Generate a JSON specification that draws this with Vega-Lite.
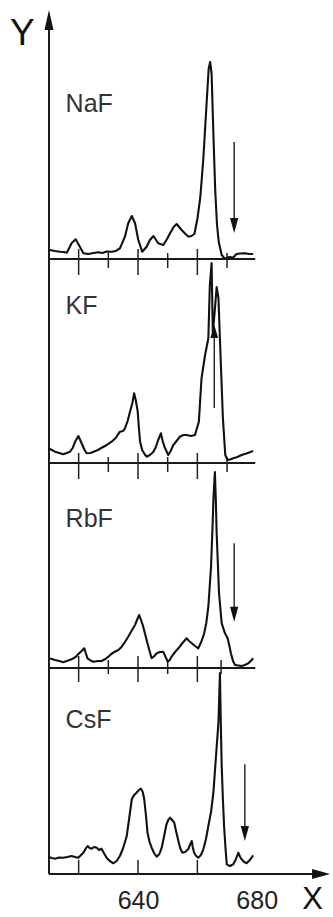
{
  "$schema": "https://vega.github.io/schema/vega-lite/v6.json",
  "padding": 0,
  "background": "white",
  "bounds": "flush",
  "spacing": 0,
  "config": {"view": {"stroke": null}, "font": "Liberation Sans"},
  "datasets": {
    "spectra": [
      {"panel":"NaF","x":610.3,"y":9},{"panel":"NaF","x":612,"y":8},{"panel":"NaF","x":613.7,"y":7.3},{"panel":"NaF","x":615,"y":7},{"panel":"NaF","x":616,"y":6.3},{"panel":"NaF","x":617,"y":12},{"panel":"NaF","x":617.6,"y":15.7},{"panel":"NaF","x":619,"y":19.7},{"panel":"NaF","x":620.4,"y":12.3},{"panel":"NaF","x":621.6,"y":5.7},{"panel":"NaF","x":623.3,"y":5},{"panel":"NaF","x":625,"y":6},{"panel":"NaF","x":626.6,"y":6.7},{"panel":"NaF","x":628,"y":6},{"panel":"NaF","x":629.5,"y":7.5},{"panel":"NaF","x":631.1,"y":7.3},{"panel":"NaF","x":632.5,"y":8},{"panel":"NaF","x":633.9,"y":10.7},{"panel":"NaF","x":635.6,"y":22.3},{"panel":"NaF","x":636.7,"y":35.7},{"panel":"NaF","x":637.9,"y":43},{"panel":"NaF","x":639,"y":35.7},{"panel":"NaF","x":640.1,"y":19},{"panel":"NaF","x":641.4,"y":7.3},{"panel":"NaF","x":642.9,"y":12.3},{"panel":"NaF","x":644,"y":19},{"panel":"NaF","x":645.2,"y":23},{"panel":"NaF","x":646.8,"y":15.7},{"panel":"NaF","x":648.5,"y":14},{"panel":"NaF","x":649.8,"y":20},{"panel":"NaF","x":650.8,"y":25.7},{"panel":"NaF","x":652,"y":32},{"panel":"NaF","x":653,"y":35},{"panel":"NaF","x":654.7,"y":29},{"panel":"NaF","x":656,"y":25},{"panel":"NaF","x":657,"y":22.3},{"panel":"NaF","x":658,"y":23},{"panel":"NaF","x":659,"y":25},{"panel":"NaF","x":660,"y":40},{"panel":"NaF","x":661,"y":62},{"panel":"NaF","x":662,"y":100},{"panel":"NaF","x":663,"y":150},{"panel":"NaF","x":663.8,"y":190},{"panel":"NaF","x":664.3,"y":197},{"panel":"NaF","x":664.8,"y":185},{"panel":"NaF","x":665.4,"y":125},{"panel":"NaF","x":666,"y":70},{"panel":"NaF","x":666.6,"y":35},{"panel":"NaF","x":667.2,"y":17},{"panel":"NaF","x":668.2,"y":4},{"panel":"NaF","x":669.3,"y":0},{"panel":"NaF","x":670,"y":1.5},{"panel":"NaF","x":671,"y":2},{"panel":"NaF","x":672,"y":1.3},{"panel":"NaF","x":673.2,"y":5},{"panel":"NaF","x":674.5,"y":5.5},{"panel":"NaF","x":676,"y":5.7},{"panel":"NaF","x":677.5,"y":5},{"panel":"NaF","x":678.8,"y":5},
      {"panel":"KF","x":609.8,"y":14.7},{"panel":"KF","x":611,"y":13},{"panel":"KF","x":612,"y":11.3},{"panel":"KF","x":613.5,"y":10},{"panel":"KF","x":614.8,"y":8.7},{"panel":"KF","x":616,"y":10},{"panel":"KF","x":617.1,"y":11.3},{"panel":"KF","x":618,"y":15},{"panel":"KF","x":618.8,"y":21.3},{"panel":"KF","x":619.9,"y":27},{"panel":"KF","x":621,"y":19.7},{"panel":"KF","x":622,"y":13},{"panel":"KF","x":622.7,"y":9.7},{"panel":"KF","x":624,"y":10},{"panel":"KF","x":625,"y":11.3},{"panel":"KF","x":626.5,"y":13},{"panel":"KF","x":627.8,"y":15.3},{"panel":"KF","x":629.5,"y":18},{"panel":"KF","x":631.1,"y":21.3},{"panel":"KF","x":632.5,"y":25},{"panel":"KF","x":633.9,"y":31.3},{"panel":"KF","x":635,"y":32},{"panel":"KF","x":635.6,"y":34.7},{"panel":"KF","x":636.5,"y":42},{"panel":"KF","x":637.3,"y":51.3},{"panel":"KF","x":638.1,"y":60},{"panel":"KF","x":638.7,"y":69.7},{"panel":"KF","x":639.3,"y":62},{"panel":"KF","x":639.9,"y":51.3},{"panel":"KF","x":640.3,"y":35},{"panel":"KF","x":640.7,"y":21.3},{"panel":"KF","x":641.4,"y":13},{"panel":"KF","x":642.2,"y":9},{"panel":"KF","x":642.9,"y":6.3},{"panel":"KF","x":644,"y":8},{"panel":"KF","x":645.2,"y":11.3},{"panel":"KF","x":646,"y":16},{"panel":"KF","x":646.8,"y":23},{"panel":"KF","x":647.7,"y":29.7},{"panel":"KF","x":648.3,"y":22},{"panel":"KF","x":648.9,"y":16.3},{"panel":"KF","x":650.2,"y":8},{"panel":"KF","x":651,"y":12},{"panel":"KF","x":651.9,"y":18},{"panel":"KF","x":653,"y":22},{"panel":"KF","x":654.1,"y":26.3},{"panel":"KF","x":655.3,"y":28},{"panel":"KF","x":656.4,"y":28},{"panel":"KF","x":657.8,"y":27},{"panel":"KF","x":659.2,"y":28},{"panel":"KF","x":660.5,"y":41.3},{"panel":"KF","x":661.4,"y":84.7},{"panel":"KF","x":662.6,"y":108},{"panel":"KF","x":663.7,"y":124.7},{"panel":"KF","x":664.2,"y":178},{"panel":"KF","x":664.8,"y":200},{"panel":"KF","x":665.2,"y":130},{"panel":"KF","x":665.8,"y":150},{"panel":"KF","x":666.5,"y":176},{"panel":"KF","x":667.1,"y":165},{"panel":"KF","x":667.8,"y":108},{"panel":"KF","x":668.6,"y":45},{"panel":"KF","x":669.4,"y":8},{"panel":"KF","x":670.2,"y":3},{"panel":"KF","x":671,"y":3.5},{"panel":"KF","x":672.1,"y":4.7},{"panel":"KF","x":673.5,"y":6},{"panel":"KF","x":674.9,"y":8},{"panel":"KF","x":676.5,"y":9.5},{"panel":"KF","x":678.8,"y":12},
      {"panel":"RbF","x":609.8,"y":9.7},{"panel":"RbF","x":611,"y":9},{"panel":"RbF","x":612,"y":8},{"panel":"RbF","x":613.5,"y":7},{"panel":"RbF","x":614.8,"y":5.7},{"panel":"RbF","x":616,"y":7},{"panel":"RbF","x":617.6,"y":8.7},{"panel":"RbF","x":619,"y":11},{"panel":"RbF","x":619.9,"y":14},{"panel":"RbF","x":621,"y":17},{"panel":"RbF","x":621.9,"y":19.7},{"panel":"RbF","x":622.5,"y":14},{"panel":"RbF","x":623,"y":9.7},{"panel":"RbF","x":624,"y":7.5},{"panel":"RbF","x":625,"y":6.3},{"panel":"RbF","x":626.5,"y":7},{"panel":"RbF","x":627.7,"y":7},{"panel":"RbF","x":629,"y":9},{"panel":"RbF","x":630,"y":11.3},{"panel":"RbF","x":631,"y":14},{"panel":"RbF","x":632.2,"y":16.3},{"panel":"RbF","x":633.4,"y":18},{"panel":"RbF","x":634.5,"y":21.3},{"panel":"RbF","x":635.6,"y":26},{"panel":"RbF","x":636.7,"y":31.3},{"panel":"RbF","x":637.8,"y":37},{"panel":"RbF","x":639,"y":43},{"panel":"RbF","x":639.8,"y":49},{"panel":"RbF","x":640.4,"y":53},{"panel":"RbF","x":641,"y":48},{"panel":"RbF","x":641.6,"y":43},{"panel":"RbF","x":642.3,"y":35},{"panel":"RbF","x":642.9,"y":28},{"panel":"RbF","x":643.8,"y":18},{"panel":"RbF","x":644.6,"y":9.7},{"panel":"RbF","x":645.5,"y":12},{"panel":"RbF","x":646.3,"y":14.7},{"panel":"RbF","x":647.4,"y":16},{"panel":"RbF","x":648.5,"y":16.3},{"panel":"RbF","x":649.3,"y":11},{"panel":"RbF","x":650,"y":6.3},{"panel":"RbF","x":650.7,"y":8},{"panel":"RbF","x":651.3,"y":11.3},{"panel":"RbF","x":652.5,"y":16},{"panel":"RbF","x":653.6,"y":19.7},{"panel":"RbF","x":655,"y":25},{"panel":"RbF","x":656.4,"y":29.7},{"panel":"RbF","x":657.2,"y":27},{"panel":"RbF","x":658.1,"y":24.7},{"panel":"RbF","x":659.2,"y":22},{"panel":"RbF","x":660.3,"y":19.7},{"panel":"RbF","x":661.3,"y":26},{"panel":"RbF","x":662.3,"y":34.7},{"panel":"RbF","x":663,"y":45},{"panel":"RbF","x":663.7,"y":61.3},{"panel":"RbF","x":664.6,"y":101},{"panel":"RbF","x":665.1,"y":140},{"panel":"RbF","x":665.4,"y":168},{"panel":"RbF","x":665.9,"y":196},{"panel":"RbF","x":666.2,"y":170},{"panel":"RbF","x":666.5,"y":134.7},{"panel":"RbF","x":667.3,"y":74.7},{"panel":"RbF","x":668.2,"y":44.7},{"panel":"RbF","x":669.3,"y":34.7},{"panel":"RbF","x":670.2,"y":29.7},{"panel":"RbF","x":670.8,"y":22},{"panel":"RbF","x":671.3,"y":14.7},{"panel":"RbF","x":672,"y":7},{"panel":"RbF","x":672.7,"y":3},{"panel":"RbF","x":673.8,"y":2.5},{"panel":"RbF","x":674.9,"y":2},{"panel":"RbF","x":676,"y":3},{"panel":"RbF","x":677.2,"y":4.7},{"panel":"RbF","x":678,"y":7},{"panel":"RbF","x":678.8,"y":9.7},
      {"panel":"CsF","x":609.8,"y":17.3},{"panel":"CsF","x":610.9,"y":16},{"panel":"CsF","x":612,"y":15.3},{"panel":"CsF","x":613.4,"y":16.5},{"panel":"CsF","x":614.8,"y":16.3},{"panel":"CsF","x":616.2,"y":17},{"panel":"CsF","x":617.6,"y":18},{"panel":"CsF","x":618.8,"y":17},{"panel":"CsF","x":619.9,"y":16.3},{"panel":"CsF","x":620.8,"y":19},{"panel":"CsF","x":621.6,"y":21.3},{"panel":"CsF","x":622.3,"y":25},{"panel":"CsF","x":623,"y":28},{"panel":"CsF","x":623.7,"y":26},{"panel":"CsF","x":624.4,"y":25.3},{"panel":"CsF","x":625.2,"y":27},{"panel":"CsF","x":626.1,"y":26.3},{"panel":"CsF","x":626.9,"y":24},{"panel":"CsF","x":627.7,"y":25.3},{"panel":"CsF","x":628.5,"y":21},{"panel":"CsF","x":629.4,"y":16.3},{"panel":"CsF","x":630.5,"y":13},{"panel":"CsF","x":631.7,"y":10.7},{"panel":"CsF","x":632.8,"y":13},{"panel":"CsF","x":633.9,"y":18},{"panel":"CsF","x":635,"y":26},{"panel":"CsF","x":636.2,"y":38},{"panel":"CsF","x":637,"y":55},{"panel":"CsF","x":637.9,"y":74.7},{"panel":"CsF","x":638.7,"y":79},{"panel":"CsF","x":639.5,"y":81.3},{"panel":"CsF","x":640.3,"y":84},{"panel":"CsF","x":641,"y":85.3},{"panel":"CsF","x":641.6,"y":82},{"panel":"CsF","x":642.1,"y":74.7},{"panel":"CsF","x":642.7,"y":58},{"panel":"CsF","x":643.2,"y":41.3},{"panel":"CsF","x":643.9,"y":32},{"panel":"CsF","x":644.6,"y":26.3},{"panel":"CsF","x":645.4,"y":21},{"panel":"CsF","x":646.3,"y":17.3},{"panel":"CsF","x":647.2,"y":20},{"panel":"CsF","x":648,"y":26.3},{"panel":"CsF","x":648.8,"y":38},{"panel":"CsF","x":649.6,"y":49.7},{"panel":"CsF","x":650.2,"y":54},{"panel":"CsF","x":650.8,"y":56.3},{"panel":"CsF","x":651.5,"y":54},{"panel":"CsF","x":652.2,"y":51.3},{"panel":"CsF","x":652.9,"y":42},{"panel":"CsF","x":653.6,"y":33},{"panel":"CsF","x":654.2,"y":26},{"panel":"CsF","x":654.9,"y":21.3},{"panel":"CsF","x":655.9,"y":22},{"panel":"CsF","x":656.9,"y":24.7},{"panel":"CsF","x":657.5,"y":29},{"panel":"CsF","x":658.1,"y":33},{"panel":"CsF","x":658.5,"y":26},{"panel":"CsF","x":658.9,"y":21.3},{"panel":"CsF","x":659.6,"y":18},{"panel":"CsF","x":660.3,"y":16.3},{"panel":"CsF","x":661.2,"y":19},{"panel":"CsF","x":662,"y":24.7},{"panel":"CsF","x":662.9,"y":35},{"panel":"CsF","x":663.7,"y":48},{"panel":"CsF","x":664.6,"y":62},{"panel":"CsF","x":665.4,"y":81.3},{"panel":"CsF","x":666.2,"y":114.7},{"panel":"CsF","x":667.1,"y":151.3},{"panel":"CsF","x":667.4,"y":180},{"panel":"CsF","x":667.6,"y":201},{"panel":"CsF","x":667.9,"y":150},{"panel":"CsF","x":668.2,"y":108},{"panel":"CsF","x":668.6,"y":75},{"panel":"CsF","x":669,"y":48},{"panel":"CsF","x":669.5,"y":25},{"panel":"CsF","x":669.9,"y":9.7},{"panel":"CsF","x":670.5,"y":8.5},{"panel":"CsF","x":671,"y":8},{"panel":"CsF","x":671.6,"y":9},{"panel":"CsF","x":672.1,"y":9.7},{"panel":"CsF","x":673,"y":15},{"panel":"CsF","x":673.8,"y":21.3},{"panel":"CsF","x":674.4,"y":17},{"panel":"CsF","x":674.9,"y":14.7},{"panel":"CsF","x":675.8,"y":12},{"panel":"CsF","x":676.6,"y":10.7},{"panel":"CsF","x":677.7,"y":14},{"panel":"CsF","x":678.8,"y":18.7}
    ],
    "segments": [
      {"panel":"NaF","kind":"frame","x":610,"x2":610,"y":0,"y2":240},
      {"panel":"NaF","kind":"frame","x":610,"x2":679.5,"y":0,"y2":0},
      {"panel":"KF","kind":"frame","x":610,"x2":610,"y":0,"y2":204},
      {"panel":"KF","kind":"frame","x":610,"x2":679.5,"y":0,"y2":0},
      {"panel":"RbF","kind":"frame","x":610,"x2":610,"y":0,"y2":205},
      {"panel":"RbF","kind":"frame","x":610,"x2":679.5,"y":0,"y2":0},
      {"panel":"CsF","kind":"frame","x":610,"x2":610,"y":0,"y2":206},
      {"panel":"CsF","kind":"frame","x":610,"x2":700,"y":0,"y2":0},
      {"panel":"NaF","kind":"tick","x":620,"x2":620,"y":10,"y2":-16},
      {"panel":"NaF","kind":"tick","x":630,"x2":630,"y":6,"y2":-9},
      {"panel":"NaF","kind":"tick","x":640,"x2":640,"y":10,"y2":-16},
      {"panel":"NaF","kind":"tick","x":650,"x2":650,"y":6,"y2":-9},
      {"panel":"NaF","kind":"tick","x":660,"x2":660,"y":10,"y2":-16},
      {"panel":"NaF","kind":"tick","x":670,"x2":670,"y":6,"y2":-9},
      {"panel":"KF","kind":"tick","x":620,"x2":620,"y":10,"y2":-16},
      {"panel":"KF","kind":"tick","x":630,"x2":630,"y":6,"y2":-9},
      {"panel":"KF","kind":"tick","x":640,"x2":640,"y":10,"y2":-16},
      {"panel":"KF","kind":"tick","x":650,"x2":650,"y":6,"y2":-9},
      {"panel":"KF","kind":"tick","x":660,"x2":660,"y":10,"y2":-16},
      {"panel":"KF","kind":"tick","x":670,"x2":670,"y":6,"y2":-9},
      {"panel":"RbF","kind":"tick","x":620,"x2":620,"y":12,"y2":-14},
      {"panel":"RbF","kind":"tick","x":630,"x2":630,"y":8,"y2":-6},
      {"panel":"RbF","kind":"tick","x":640,"x2":640,"y":12,"y2":-14},
      {"panel":"RbF","kind":"tick","x":650,"x2":650,"y":8,"y2":-6},
      {"panel":"RbF","kind":"tick","x":660,"x2":660,"y":12,"y2":-14},
      {"panel":"RbF","kind":"tick","x":668,"x2":668,"y":8,"y2":-6},
      {"panel":"CsF","kind":"tick","x":620,"x2":620,"y":0,"y2":14},
      {"panel":"CsF","kind":"tick","x":640,"x2":640,"y":0,"y2":14},
      {"panel":"CsF","kind":"tick","x":660,"x2":660,"y":0,"y2":14},
      {"panel":"NaF","kind":"shaft","x":672.4,"x2":672.4,"y":117,"y2":32},
      {"panel":"KF","kind":"shaft","x":665.7,"x2":665.7,"y":55,"y2":132},
      {"panel":"RbF","kind":"shaft","x":672.4,"x2":672.4,"y":124.7,"y2":52},
      {"panel":"CsF","kind":"shaft","x":676,"x2":676,"y":109.7,"y2":38}
    ],
    "heads": [
      {"panel":"NaF","kind":"down","x":672.4,"y":26},
      {"panel":"NaF","kind":"yaxis","x":610,"y":249},
      {"panel":"KF","kind":"up","x":665.7,"y":138},
      {"panel":"RbF","kind":"down","x":672.4,"y":46.3},
      {"panel":"CsF","kind":"down","x":676,"y":33},
      {"panel":"CsF","kind":"xaxis","x":704.7,"y":0}
    ],
    "labels": [
      {"panel":"NaF","kind":"panel","x":615.6,"y":147.3,"label":"NaF"},
      {"panel":"KF","kind":"panel","x":615.6,"y":149,"label":"KF"},
      {"panel":"RbF","kind":"panel","x":615.6,"y":141,"label":"RbF"},
      {"panel":"CsF","kind":"panel","x":615.6,"y":146,"label":"CsF"},
      {"panel":"NaF","kind":"axis","x":596.9,"y":214,"label":"Y"}
    ]
  },
  "vconcat": [
    {
      "width": 333, "height": 259,
      "encoding": {
        "x": {"field":"x","type":"quantitative","scale":{"domain":[593.5,705.7],"nice":false,"zero":false},"axis":null},
        "y": {"field":"y","type":"quantitative","scale":{"domain":[0,259],"nice":false,"zero":false},"axis":null}
      },
      "layer": [
        {"data":{"name":"segments"},"transform":[{"filter":"datum.panel==='NaF'&&datum.kind==='frame'"}],"mark":{"type":"rule","strokeWidth":2,"color":"#1a1a1a"},"encoding":{"x2":{"field":"x2"},"y2":{"field":"y2"}}},
        {"data":{"name":"segments"},"transform":[{"filter":"datum.panel==='NaF'&&datum.kind==='tick'"}],"mark":{"type":"rule","strokeWidth":1.5,"color":"#222"},"encoding":{"x2":{"field":"x2"},"y2":{"field":"y2"}}},
        {"data":{"name":"segments"},"transform":[{"filter":"datum.panel==='NaF'&&datum.kind==='shaft'"}],"mark":{"type":"rule","strokeWidth":1.4,"color":"#222"},"encoding":{"x2":{"field":"x2"},"y2":{"field":"y2"}}},
        {"data":{"name":"spectra"},"transform":[{"filter":"datum.panel==='NaF'"}],"mark":{"type":"line","strokeWidth":2.1,"color":"#111","strokeJoin":"round"},"encoding":{}},
        {"data":{"name":"heads"},"transform":[{"filter":"datum.panel==='NaF'&&datum.kind==='down'"}],"mark":{"type":"point","shape":"M0,0L0.55,-2L-0.55,-2Z","filled":true,"size":225,"color":"#111","opacity":1,"strokeWidth":0}},
        {"data":{"name":"heads"},"transform":[{"filter":"datum.panel==='NaF'&&datum.kind==='yaxis'"}],"mark":{"type":"point","shape":"M0,0L0.9,4L-0.9,4Z","filled":true,"size":100,"color":"#111","opacity":1,"strokeWidth":0}},
        {"data":{"name":"labels"},"transform":[{"filter":"datum.panel==='NaF'&&datum.kind==='panel'"}],"mark":{"type":"text","align":"left","baseline":"alphabetic","fontSize":25,"color":"#333"},"encoding":{"text":{"field":"label"}}},
        {"data":{"name":"labels"},"transform":[{"filter":"datum.panel==='NaF'&&datum.kind==='axis'"}],"mark":{"type":"text","align":"left","baseline":"alphabetic","fontSize":37,"color":"#111"},"encoding":{"text":{"field":"label"}}}
      ]
    },
    {
      "width": 333, "height": 204,
      "encoding": {
        "x": {"field":"x","type":"quantitative","scale":{"domain":[593.5,705.7],"nice":false,"zero":false},"axis":null},
        "y": {"field":"y","type":"quantitative","scale":{"domain":[0,204],"nice":false,"zero":false},"axis":null}
      },
      "layer": [
        {"data":{"name":"segments"},"transform":[{"filter":"datum.panel==='KF'&&datum.kind==='frame'"}],"mark":{"type":"rule","strokeWidth":2,"color":"#1a1a1a"},"encoding":{"x2":{"field":"x2"},"y2":{"field":"y2"}}},
        {"data":{"name":"segments"},"transform":[{"filter":"datum.panel==='KF'&&datum.kind==='tick'"}],"mark":{"type":"rule","strokeWidth":1.5,"color":"#222"},"encoding":{"x2":{"field":"x2"},"y2":{"field":"y2"}}},
        {"data":{"name":"segments"},"transform":[{"filter":"datum.panel==='KF'&&datum.kind==='shaft'"}],"mark":{"type":"rule","strokeWidth":1.4,"color":"#222"},"encoding":{"x2":{"field":"x2"},"y2":{"field":"y2"}}},
        {"data":{"name":"spectra"},"transform":[{"filter":"datum.panel==='KF'"}],"mark":{"type":"line","strokeWidth":2.1,"color":"#111","strokeJoin":"round"},"encoding":{}},
        {"data":{"name":"heads"},"transform":[{"filter":"datum.panel==='KF'&&datum.kind==='up'"}],"mark":{"type":"point","shape":"M0,0L0.6,2L-0.6,2Z","filled":true,"size":169,"color":"#111","opacity":1,"strokeWidth":0}},
        {"data":{"name":"labels"},"transform":[{"filter":"datum.panel==='KF'&&datum.kind==='panel'"}],"mark":{"type":"text","align":"left","baseline":"alphabetic","fontSize":25,"color":"#333"},"encoding":{"text":{"field":"label"}}}
      ]
    },
    {
      "width": 333, "height": 205,
      "encoding": {
        "x": {"field":"x","type":"quantitative","scale":{"domain":[593.5,705.7],"nice":false,"zero":false},"axis":null},
        "y": {"field":"y","type":"quantitative","scale":{"domain":[0,205],"nice":false,"zero":false},"axis":null}
      },
      "layer": [
        {"data":{"name":"segments"},"transform":[{"filter":"datum.panel==='RbF'&&datum.kind==='frame'"}],"mark":{"type":"rule","strokeWidth":2,"color":"#1a1a1a"},"encoding":{"x2":{"field":"x2"},"y2":{"field":"y2"}}},
        {"data":{"name":"segments"},"transform":[{"filter":"datum.panel==='RbF'&&datum.kind==='tick'"}],"mark":{"type":"rule","strokeWidth":1.5,"color":"#222"},"encoding":{"x2":{"field":"x2"},"y2":{"field":"y2"}}},
        {"data":{"name":"segments"},"transform":[{"filter":"datum.panel==='RbF'&&datum.kind==='shaft'"}],"mark":{"type":"rule","strokeWidth":1.4,"color":"#222"},"encoding":{"x2":{"field":"x2"},"y2":{"field":"y2"}}},
        {"data":{"name":"spectra"},"transform":[{"filter":"datum.panel==='RbF'"}],"mark":{"type":"line","strokeWidth":2.1,"color":"#111","strokeJoin":"round"},"encoding":{}},
        {"data":{"name":"heads"},"transform":[{"filter":"datum.panel==='RbF'&&datum.kind==='down'"}],"mark":{"type":"point","shape":"M0,0L0.55,-2L-0.55,-2Z","filled":true,"size":225,"color":"#111","opacity":1,"strokeWidth":0}},
        {"data":{"name":"labels"},"transform":[{"filter":"datum.panel==='RbF'&&datum.kind==='panel'"}],"mark":{"type":"text","align":"left","baseline":"alphabetic","fontSize":25,"color":"#333"},"encoding":{"text":{"field":"label"}}}
      ]
    },
    {
      "width": 333, "height": 206,
      "encoding": {
        "x": {"field":"x","type":"quantitative","scale":{"domain":[593.5,705.7],"nice":false,"zero":false},
              "axis":{"values":[640,680],"domain":false,"ticks":false,"tickSize":0,"grid":false,"labelFlush":false,"labelFontSize":25,"labelColor":"#222","labelPadding":34,"labelBaseline":"alphabetic","title":"X","titleFontSize":31,"titleFontWeight":"normal","titleColor":"#111","titleX":312,"titleY":34,"titleAlign":"center","titleBaseline":"alphabetic","titleAnchor":"start"}},
        "y": {"field":"y","type":"quantitative","scale":{"domain":[0,206],"nice":false,"zero":false},"axis":null}
      },
      "layer": [
        {"data":{"name":"segments"},"transform":[{"filter":"datum.panel==='CsF'&&datum.kind==='frame'"}],"mark":{"type":"rule","strokeWidth":2,"color":"#1a1a1a"},"encoding":{"x2":{"field":"x2"},"y2":{"field":"y2"}}},
        {"data":{"name":"segments"},"transform":[{"filter":"datum.panel==='CsF'&&datum.kind==='tick'"}],"mark":{"type":"rule","strokeWidth":1.5,"color":"#222"},"encoding":{"x2":{"field":"x2"},"y2":{"field":"y2"}}},
        {"data":{"name":"segments"},"transform":[{"filter":"datum.panel==='CsF'&&datum.kind==='shaft'"}],"mark":{"type":"rule","strokeWidth":1.4,"color":"#222"},"encoding":{"x2":{"field":"x2"},"y2":{"field":"y2"}}},
        {"data":{"name":"spectra"},"transform":[{"filter":"datum.panel==='CsF'"}],"mark":{"type":"line","strokeWidth":2.1,"color":"#111","strokeJoin":"round"},"encoding":{}},
        {"data":{"name":"heads"},"transform":[{"filter":"datum.panel==='CsF'&&datum.kind==='down'"}],"mark":{"type":"point","shape":"M0,0L0.55,-2L-0.55,-2Z","filled":true,"size":225,"color":"#111","opacity":1,"strokeWidth":0}},
        {"data":{"name":"heads"},"transform":[{"filter":"datum.panel==='CsF'&&datum.kind==='xaxis'"}],"mark":{"type":"point","shape":"M0,0L-3.6,-1L-3.6,1Z","filled":true,"size":100,"color":"#111","opacity":1,"strokeWidth":0}},
        {"data":{"name":"labels"},"transform":[{"filter":"datum.panel==='CsF'&&datum.kind==='panel'"}],"mark":{"type":"text","align":"left","baseline":"alphabetic","fontSize":25,"color":"#333"},"encoding":{"text":{"field":"label"}}}
      ]
    }
  ]
}
